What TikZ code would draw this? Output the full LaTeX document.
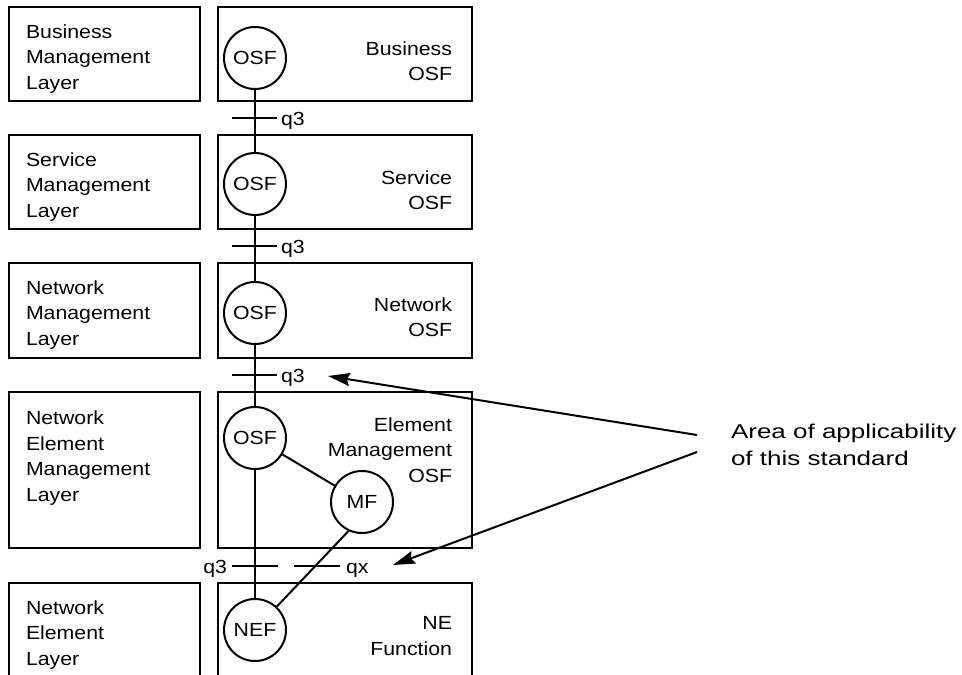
\documentclass[tikz,border=0pt]{standalone}
\usepackage{fontspec}
\setmainfont[FakeStretch=1.12]{Liberation Sans}
\newfontfamily\areafont[FakeStretch=1.3]{Liberation Sans}
\usetikzlibrary{arrows.meta}

\tikzset{
  fn/.style={draw, circle, minimum size=62pt, inner sep=0pt},
  layertext/.style={anchor=west, align=left, inner sep=0pt},
  osftext/.style={anchor=east, align=right, inner sep=0pt},
  reftext/.style={inner sep=0pt},
  pointer/.style={-{Stealth[length=22pt,width=13pt,inset=3pt]}},
}

\begin{document}
\begin{tikzpicture}[x=1pt, y=-1pt, line width=2pt,
  font=\fontsize{19}{25.5}\selectfont]
\useasboundingbox (0,0) rectangle (962,675);

% layers
\draw (9,7) rectangle (200,101);
\draw (9,135) rectangle (200,229);
\draw (9,263) rectangle (200,358);
\draw (9,392) rectangle (200,548);
\draw (9,676) |- (200,583) -- (200,676);

\draw (218,7) rectangle (472,101);
\draw (218,135) rectangle (472,229);
\draw (218,263) rectangle (472,358);
\draw (218,392) rectangle (472,548);
\draw (218,676) |- (472,583) -- (472,676);

\node[layertext] (bml) at (25,59) {Business\\Management\\Layer};
\node[layertext] (sml) at (25,187) {Service\\Management\\Layer};
\node[layertext] (nml) at (25,315) {Network\\Management\\Layer};
\node[layertext] (neml) at (25,458) {Network\\Element\\Management\\Layer};
\node[layertext] (nel) at (25,635) {Network\\Element\\Layer};

\node[osftext] (bosf) at (453,61) {Business\\OSF};
\node[osftext] (sosf) at (453,190) {Service\\OSF};
\node[osftext] (nosf) at (453,317) {Network\\OSF};
\node[osftext] (eosf) at (453,450) {Element\\Management\\OSF};
\node[osftext] (nefn) at (453,636) {NE\\Function};

% function blocks
\node[fn] (osfA) at (255,58) {OSF};
\node[fn] (osfB) at (255,184) {OSF};
\node[fn] (osfC) at (255,313) {OSF};
\node[fn] (osfD) at (255,438) {OSF};
\node[fn] (mf) at (362,502) {MF};
\node[fn] (nef) at (255,630) {NEF};

\draw (osfA) -- (osfB);
\draw (osfB) -- (osfC);
\draw (osfC) -- (osfD);
\draw (osfD) -- (nef);
\draw (osfD) -- (mf);
\draw (mf.245) -- (nef.47);

% reference points
\draw (232,118) -- (277,118);
\node[reftext, anchor=base west] (qA) at (280,125.5) {q3};
\draw (232,246) -- (277,246);
\node[reftext, anchor=base west] (qB) at (280,253.5) {q3};
\draw (232,375) -- (277,375);
\node[reftext, anchor=base west] (qC) at (280,382.5) {q3};
\draw (232,566) -- (278,566);
\node[reftext, anchor=base east] (qD) at (228,573.5) {q3};
\draw (294,566) -- (340,566);
\node[reftext, anchor=base west] (qx) at (345,573.5) {qx};

% area of applicability
\node[reftext, anchor=west, align=left,
  font=\areafont\fontsize{20}{27}\selectfont] (area) at (730,445)
  {Area of applicability\\of this standard};
\coordinate (tailA) at (697,435);
\coordinate (tailB) at (697,452);
\coordinate (tipA) at (328,376);
\coordinate (tipB) at (393,565);
\draw[pointer] (tailA) -- (tipA);
\draw[pointer] (tailB) -- (tipB);

\end{tikzpicture}
\end{document}
